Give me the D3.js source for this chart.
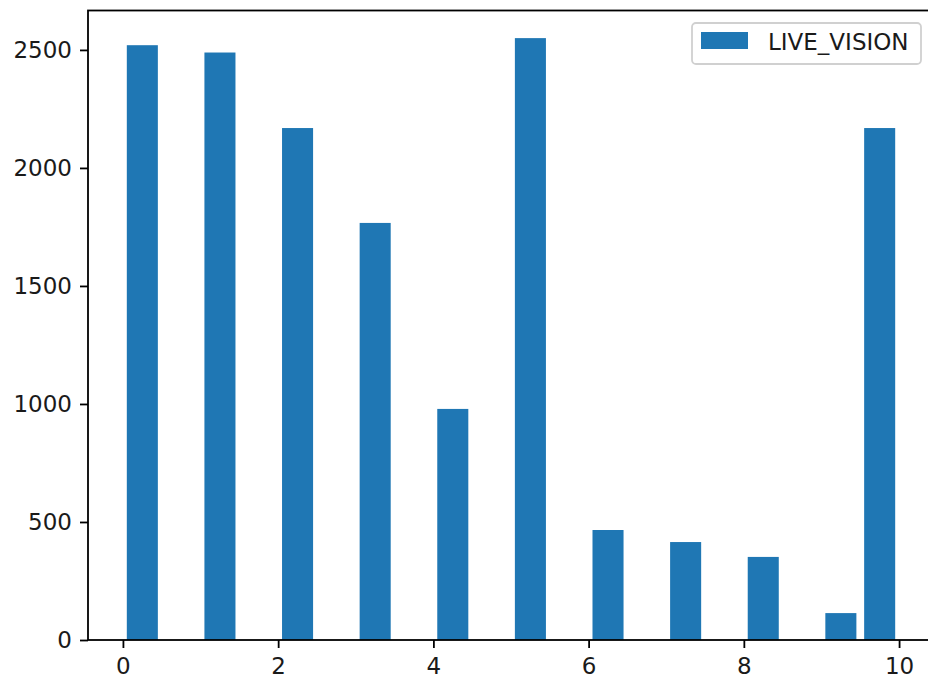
<!DOCTYPE html>
<html>
<head>
<meta charset="utf-8">
<script src="https://cdn.jsdelivr.net/npm/d3@7"></script>
<style>
  html, body { margin: 0; padding: 0; background: #fff; overflow: hidden; }
  svg { display: block; font-family: "DejaVu Sans", sans-serif; }
</style>
</head>
<body>
<div id="chart"></div>
<script>
// histogram bins (left edges) and counts
const binStarts = [0, 1, 2, 3, 4, 5, 6, 7, 8, 9, 9.5];
const counts = [2520, 2489, 2169, 1767, 979, 2550, 466, 415, 352, 114, 2169];
const binWidth = 0.5;
const xTicks = [0, 2, 4, 6, 8, 10];
const yTicks = [0, 500, 1000, 1500, 2000, 2500];
const seriesName = "LIVE_VISION";

const width = 928;
const height = 680;
const margin = { top: 10.5, left: 88, bottom: 40 };
const plotRight = 934; // right spine falls just outside the window

const svg = d3.select("#chart")
  .append("svg")
  .attr("width", width)
  .attr("height", height);

const x = d3.scaleLinear().domain([-0.45, 10.45]).range([margin.left, plotRight]);
const y = d3.scaleLinear().domain([0, 2667]).range([height - margin.bottom, margin.top]);

const color = "#1f77b4";
const rwidth = 0.8;

// bars
svg.append("g")
  .selectAll("rect")
  .data(binStarts.map((s, i) => ({ start: s, count: counts[i] })))
  .enter()
  .append("rect")
  .attr("x", (d) => x(d.start + binWidth * (1 - rwidth) / 2))
  .attr("width", (d) => x(d.start + binWidth * (1 + rwidth) / 2) - x(d.start + binWidth * (1 - rwidth) / 2))
  .attr("y", (d) => y(d.count))
  .attr("height", (d) => y(0) - y(d.count))
  .attr("fill", color);

// axes
const fontSize = 23;
const xAxis = svg.append("g")
  .attr("transform", `translate(0,${y(0)})`)
  .call(d3.axisBottom(x).tickValues(xTicks).tickSize(8).tickPadding(10).tickFormat(d3.format("d")));
const yAxis = svg.append("g")
  .attr("transform", `translate(${x(-0.45)},0)`)
  .call(d3.axisLeft(y).tickValues(yTicks).tickSize(8).tickPadding(8).tickFormat(d3.format("d")));

[xAxis, yAxis].forEach((a) => {
  a.select(".domain").remove();
  a.selectAll("line").attr("stroke", "#000").attr("stroke-width", 1.8);
  a.selectAll("text")
    .attr("fill", "#1a1a1a")
    .style("font-size", fontSize + "px")
    .style("font-family", "DejaVu Sans, sans-serif");
});

// spines
svg.append("rect")
  .attr("x", x(-0.45))
  .attr("y", y(2667))
  .attr("width", x(10.45) - x(-0.45))
  .attr("height", y(0) - y(2667))
  .attr("fill", "none")
  .attr("stroke", "#000")
  .attr("stroke-width", 1.8);

// legend
const legend = svg.append("g").attr("transform", "translate(692,23)");
legend.append("rect")
  .attr("width", 229)
  .attr("height", 41)
  .attr("rx", 4)
  .attr("fill", "#fff")
  .attr("fill-opacity", 0.8)
  .attr("stroke", "#d0d0d0")
  .attr("stroke-width", 1.8);
legend.append("rect")
  .attr("x", 9)
  .attr("y", 9)
  .attr("width", 47)
  .attr("height", 17)
  .attr("fill", color);
legend.append("text")
  .attr("x", 76)
  .attr("y", 27)
  .attr("fill", "#1a1a1a")
  .style("font-size", fontSize + "px")
  .text(seriesName);
</script>
</body>
</html>
